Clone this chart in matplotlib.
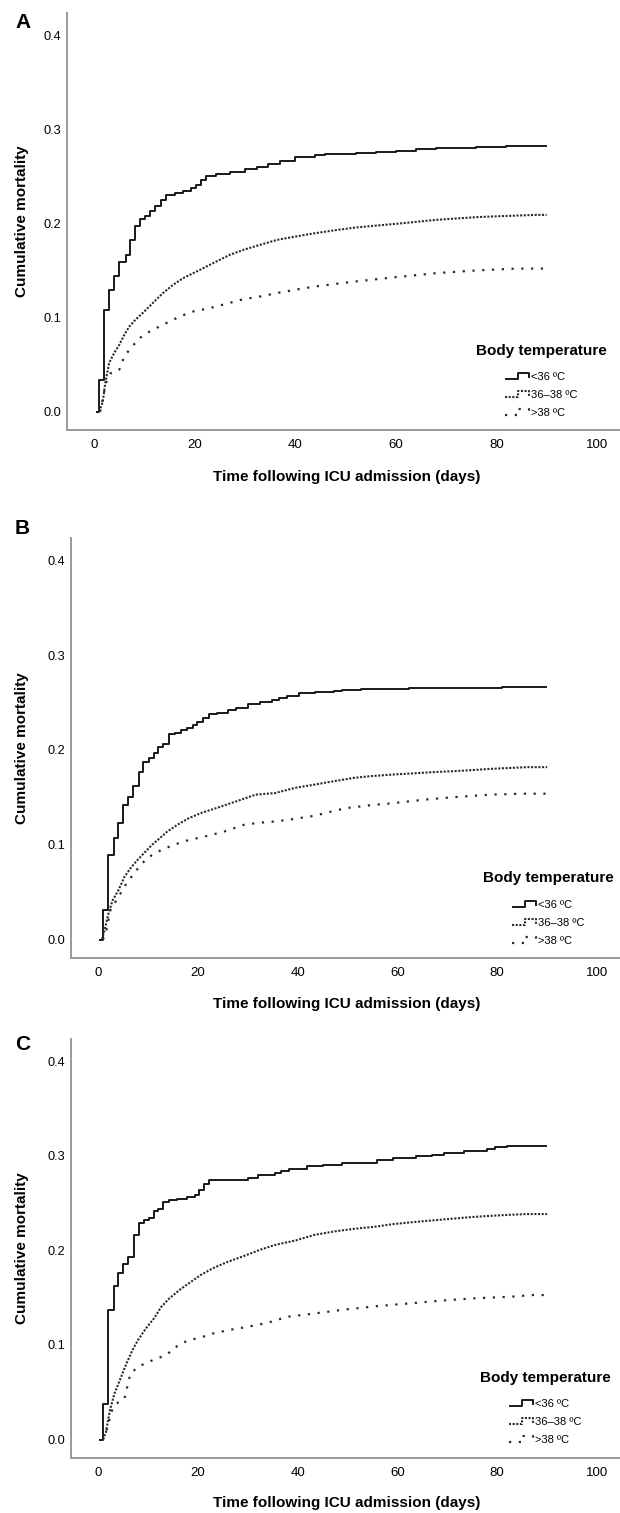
import matplotlib
matplotlib.use("Agg")
import matplotlib.pyplot as plt
from matplotlib.lines import Line2D
from matplotlib.legend_handler import HandlerBase

plt.rcParams['font.family'] = ['Liberation Sans', 'DejaVu Sans']

# ---------------- data (event times in days, cumulative mortality) ----------------
groups = ["<36 ºC", "36–38 ºC", ">38 ºC"]
legend_title = "Body temperature"
x_ticks = [0, 20, 40, 60, 80, 100]
y_ticks = [0.0, 0.1, 0.2, 0.3, 0.4]
panel_labels = ["A", "B", "C"]
end_day = 90

# Panel A
a_lt36_t = [0.3, 1.0, 2.0, 3.0, 4.0, 5.0, 6.3, 7.2, 8.2, 9.2, 10.2, 11.2, 12.2, 13.2, 14.2, 16.0, 17.7,
            19.3, 20.3, 21.3, 22.3, 24.3, 27.0, 30.0, 32.3, 34.5, 37.0, 40.0, 44.0, 46.0, 52.0, 56.0,
            60.0, 64.0, 68.0, 72.0, 76.0, 79.0, 82.0]
a_lt36_y = [0.0, 0.034, 0.1075, 0.129, 0.1436, 0.159, 0.1666, 0.1825, 0.1967, 0.2048, 0.2083, 0.2136,
            0.2186, 0.2249, 0.230, 0.2325, 0.234, 0.2373, 0.2404, 0.246, 0.250, 0.252, 0.2543, 0.258,
            0.260, 0.263, 0.266, 0.2706, 0.2722, 0.2735, 0.2745, 0.2755, 0.277, 0.2785, 0.280, 0.2805,
            0.281, 0.2815, 0.2824]
a_mid_t = [1.0, 1.7, 2.2, 3.0, 4.0, 5.0, 6.0, 7.0, 8.2, 9.7, 11.0, 12.3, 13.7, 15.7, 17.7, 19.7, 21.7,
           24.3, 27.0, 29.7, 33.0, 36.4, 40.0, 44.0, 48.0, 52.0, 56.0, 60.0, 64.0, 68.0, 72.0, 76.0,
           80.0, 84.0, 88.0]
a_mid_y = [0.0, 0.010, 0.030, 0.052, 0.0625, 0.071, 0.0817, 0.0905, 0.0976, 0.105, 0.1118, 0.1188,
           0.126, 0.1347, 0.1418, 0.1471, 0.1524, 0.1595, 0.1666, 0.1719, 0.1772, 0.1825, 0.186,
           0.1896, 0.1928, 0.1956, 0.1976, 0.1995, 0.2016, 0.2037, 0.2052, 0.2066, 0.2075, 0.2083, 0.209]
a_gt38_t = [1.2, 1.7, 2.3, 3.3, 5.0, 6.0, 7.3, 9.0, 11.0, 13.0, 15.0, 17.0, 19.7, 23.0, 26.3, 29.7,
            33.0, 36.4, 40.0, 44.0, 48.0, 52.0, 56.0, 60.0, 64.0, 68.0, 72.0, 76.0, 80.0, 84.0]
a_gt38_y = [0.0, 0.013, 0.030, 0.041, 0.0446, 0.0587, 0.0676, 0.078, 0.085, 0.0905, 0.0958, 0.101,
            0.1064, 0.110, 0.1146, 0.1195, 0.1223, 0.126, 0.1295, 0.133, 0.1357, 0.1383, 0.1406,
            0.1429, 0.145, 0.1471, 0.1486, 0.150, 0.151, 0.152]

# Panel B
b_lt36_t = [0.3, 1.1, 2.1, 3.2, 4.1, 5.1, 6.1, 7.1, 8.2, 9.1, 10.2, 11.2, 12.1, 13.1, 14.2, 15.5, 16.7,
            17.9, 19.0, 19.8, 21.0, 22.2, 23.8, 26.1, 27.7, 30.0, 32.4, 34.8, 36.3, 37.9, 40.3, 43.4,
            47.3, 48.9, 52.8, 62.3, 81.0]
b_lt36_y = [0.0, 0.031, 0.089, 0.107, 0.1234, 0.142, 0.150, 0.1616, 0.177, 0.1874, 0.1917, 0.197,
            0.2034, 0.2065, 0.2164, 0.2182, 0.221, 0.2235, 0.226, 0.2295, 0.234, 0.2377, 0.2394, 0.242,
            0.2447, 0.2483, 0.250, 0.2525, 0.2543, 0.2571, 0.260, 0.2614, 0.2624, 0.2635, 0.2642,
            0.2656, 0.2667]
b_mid_t = [0.8, 1.3, 2.1, 2.9, 4.1, 5.3, 6.5, 7.6, 9.2, 10.8, 12.4, 13.9, 15.9, 18.2, 20.6, 23.7, 27.7,
           31.6, 35.5, 39.5, 43.4, 47.3, 51.3, 55.0, 59.1, 63.0, 67.0, 71.0, 74.8, 78.0, 82.7, 86.0]
b_mid_y = [0.0, 0.0095, 0.027, 0.041, 0.052, 0.066, 0.075, 0.082, 0.091, 0.0997, 0.107, 0.1139, 0.121,
           0.128, 0.1333, 0.1386, 0.1457, 0.1528, 0.1545, 0.160, 0.1634, 0.167, 0.1705, 0.1725, 0.174,
           0.1752, 0.1765, 0.1775, 0.1786, 0.1798, 0.181, 0.1818]
b_gt38_t = [1.0, 1.7, 2.5, 3.3, 4.5, 5.7, 7.2, 8.8, 10.8, 12.7, 15.1, 18.2, 21.4, 25.3, 29.3, 32.0,
            35.5, 39.0, 43.4, 46.0, 49.7, 52.0, 55.2, 58.5, 62.3, 66.0, 71.0, 75.0, 78.8, 85.0]
b_gt38_y = [0.0, 0.010, 0.031, 0.038, 0.0485, 0.059, 0.0697, 0.0803, 0.089, 0.0944, 0.0997, 0.105,
            0.1086, 0.1139, 0.121, 0.123, 0.1245, 0.127, 0.1305, 0.134, 0.1386, 0.140, 0.142, 0.1435,
            0.1457, 0.1478, 0.150, 0.1515, 0.1528, 0.1538]

# Panel C
c_lt36_t = [0.3, 1.1, 2.1, 3.2, 4.1, 5.1, 6.1, 7.2, 8.2, 9.2, 10.2, 11.2, 12.1, 13.1, 14.3, 15.9, 17.9,
            19.4, 20.2, 21.2, 22.2, 30.0, 32.0, 35.5, 36.7, 38.3, 41.8, 45.0, 48.9, 56.0, 59.1, 63.8,
            67.0, 69.3, 73.3, 78.0, 79.6, 81.9]
c_lt36_y = [0.0, 0.0378, 0.1369, 0.1623, 0.1758, 0.1857, 0.1935, 0.2164, 0.2288, 0.2324, 0.2341,
            0.2412, 0.244, 0.2511, 0.2529, 0.2546, 0.2564, 0.2589, 0.2642, 0.2702, 0.2744, 0.2766,
            0.280, 0.2819, 0.2836, 0.2861, 0.289, 0.2907, 0.2925, 0.296, 0.2978, 0.2996, 0.3013,
            0.3031, 0.3049, 0.3073, 0.3091, 0.3102]
c_mid_t = [1.0, 1.6, 2.4, 3.3, 4.1, 4.9, 5.7, 6.9, 8.0, 9.6, 11.2, 12.7, 14.3, 16.3, 18.2, 20.6, 23.0,
           26.1, 29.3, 32.4, 35.5, 39.5, 43.4, 47.3, 51.3, 56.0, 59.1, 63.0, 67.0, 71.0, 74.8, 78.5,
           82.7, 86.0]
c_mid_y = [0.0, 0.0078, 0.031, 0.0485, 0.059, 0.0697, 0.0803, 0.0944, 0.105, 0.1174, 0.128, 0.1404,
           0.1492, 0.158, 0.1652, 0.174, 0.1811, 0.1881, 0.1942, 0.2005, 0.2058, 0.2104, 0.2164,
           0.220, 0.2228, 0.2253, 0.2278, 0.2298, 0.2317, 0.2335, 0.2352, 0.2365, 0.2377, 0.2384]
c_gt38_t = [1.0, 1.7, 2.9, 4.1, 5.3, 6.5, 8.0, 10.0, 11.9, 13.9, 15.1, 16.7, 18.2, 20.6, 23.0, 26.1,
            30.0, 34.0, 37.9, 43.4, 49.7, 56.0, 62.3, 68.6, 74.8, 82.7, 87.0]
c_gt38_y = [0.0, 0.0095, 0.0325, 0.0396, 0.0431, 0.0697, 0.0767, 0.082, 0.0856, 0.0902, 0.0962,
            0.1015, 0.105, 0.1079, 0.1121, 0.1157, 0.1192, 0.1234, 0.1298, 0.1333, 0.1376, 0.1411,
            0.1439, 0.1468, 0.1492, 0.151, 0.1528]

panels = [
    [(a_lt36_t, a_lt36_y), (a_mid_t, a_mid_y), (a_gt38_t, a_gt38_y)],
    [(b_lt36_t, b_lt36_y), (b_mid_t, b_mid_y), (b_gt38_t, b_gt38_y)],
    [(c_lt36_t, c_lt36_y), (c_mid_t, c_mid_y), (c_gt38_t, c_gt38_y)],
]

# ---------------- styling / layout ----------------
W, H = 620, 1513
styles = [
    dict(color="#111111", lw=1.35, linestyle="-"),
    dict(color="#2a2a2a", lw=1.5, linestyle=(0, (1, 0.75))),
    dict(color="#2a2a2a", lw=1.6, linestyle=(0, (1, 3.4))),
]
stepped = [True, False, False]
# pixel geometry: (left, top, bottom) of each axes
geom = [(67, 13, 430), (71, 538, 958), (71, 1039, 1458)]
letter_y = [22, 528, 1045]
xlabel_y = [477, 1004, 1503]
legend_title_pos = [(541, 351), (548, 878), (545, 1378)]
legend_rows_y = [395, 923, 1422]
spine_color = "#9a9a9a"


class StepHandler(HandlerBase):
    def create_artists(self, legend, orig_handle, xdescent, ydescent, width, height, fontsize, trans):
        x0, y0 = -xdescent, -ydescent
        lo, hi = y0 + 0.1 * height, y0 + 0.9 * height
        xm = x0 + 0.55 * width
        line = Line2D([x0, xm, xm, x0 + width, x0 + width], [lo, lo, hi, hi, y0 + 0.3 * height])
        line.update_from(orig_handle)
        line.set_drawstyle("default")
        line.set_transform(trans)
        return [line]


fig = plt.figure(figsize=(W / 100, H / 100), dpi=100)

for i, (series, (left, top, bottom)) in enumerate(zip(panels, geom)):
    ax = fig.add_axes([left / W, 1 - bottom / H, 1 - left / W, (bottom - top) / H])
    handles = []
    for (t, y), st, name, stp in zip(series, styles, groups, stepped):
        tt = list(t) + [end_day]
        yy = list(y) + [y[-1]]
        if stp:
            h, = ax.step(tt, yy, where="post", label=name, solid_capstyle="butt", **st)
        else:
            h, = ax.plot(tt, yy, label=name, dash_capstyle="butt", **st)
        handles.append(h)
    ax.set_xlim(-5.4, 104.6)
    ax.set_ylim(-0.0195, 0.4235)
    ax.set_xticks(x_ticks)
    ax.set_yticks(y_ticks)
    ax.set_yticklabels([f"{v:.1f}" for v in y_ticks])
    ax.tick_params(axis="x", length=0, pad=6.5, labelsize=9.5)
    ax.tick_params(axis="y", length=0, pad=4.3, labelsize=9.2)
    for s in ["top", "right"]:
        ax.spines[s].set_visible(False)
    for s in ["left", "bottom"]:
        ax.spines[s].set_color(spine_color)
        ax.spines[s].set_linewidth(1.4)

    tx, ty = legend_title_pos[i]
    fig.text(tx / W, 1 - ty / H, legend_title, fontsize=11, fontweight="bold",
             ha="center", va="center")
    fig.legend(handles=handles, labels=groups,
               loc="center", bbox_to_anchor=(tx / W, 1 - legend_rows_y[i] / H),
               frameon=False, fontsize=8, handlelength=2.2, handletextpad=0.1,
               labelspacing=0.72, borderpad=0, handleheight=0.7,
               handler_map={Line2D: StepHandler()})

    fig.text(15 / W, 1 - letter_y[i] / H, panel_labels[i], fontsize=15, fontweight="bold",
             ha="left", va="center")
    fig.text(22 / W, 1 - ((top + bottom) / 2) / H, "Cumulative mortality", rotation=90,
             fontsize=11, fontweight="bold", ha="center", va="center")
    fig.text(347 / W, 1 - xlabel_y[i] / H, "Time following ICU admission (days)",
             fontsize=11, fontweight="bold", ha="center", va="center")

fig.savefig("out.png", dpi=100, facecolor="white")
